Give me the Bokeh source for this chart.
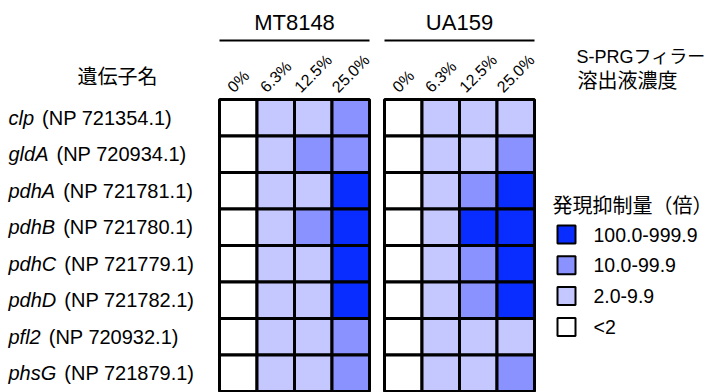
import math

from bokeh.core.properties import value
from bokeh.embed import file_html
from bokeh.models import ColumnDataSource, Range1d
from bokeh.plotting import figure
from bokeh.resources import INLINE

# ---- data -------------------------------------------------------------
genes = ["clp", "gldA", "pdhA", "pdhB", "pdhC", "pdhD", "pfl2", "phsG"]
accessions = ["(NP 721354.1)", "(NP 720934.1)", "(NP 721781.1)", "(NP 721780.1)",
              "(NP 721779.1)", "(NP 721782.1)", "(NP 720932.1)", "(NP 721879.1)"]
concentrations = ["0%", "6.3%", "12.5%", "25.0%"]
strains = ["MT8148", "UA159"]

# fold-repression class per gene (rows) and eluate concentration (columns)
# 0: <2, 1: 2.0-9.9, 2: 10.0-99.9, 3: 100.0-999.9
mt8148_class = [
    [0, 1, 1, 2],
    [0, 1, 2, 2],
    [0, 1, 1, 3],
    [0, 1, 2, 3],
    [0, 1, 1, 3],
    [0, 1, 1, 3],
    [0, 1, 1, 2],
    [0, 1, 1, 2],
]
ua159_class = [
    [0, 1, 1, 1],
    [0, 1, 1, 2],
    [0, 1, 2, 3],
    [0, 1, 3, 3],
    [0, 1, 2, 3],
    [0, 1, 2, 3],
    [0, 1, 1, 1],
    [0, 1, 1, 2],
]
class_labels = ["<2", "2.0-9.9", "10.0-99.9", "100.0-999.9"]

row_header = "遺伝子名"
conc_title = ["S-PRGフィラー", "溶出液濃度"]
legend_title = "発現抑制量（倍）"

# ---- style / layout ---------------------------------------------------
W, H = 713, 392
palette = ["#ffffff", "#c4c8ff", "#8a92ff", "#0a2dff"]
LATIN = "Liberation Sans"
CJK = "Noto Sans CJK JP"
MIXED = "Liberation Sans, Noto Sans CJK JP"

GRID_TOP = 99.0
ROW_H = 36.5
COL_W = 37.5
GRID_LEFT = {"MT8148": 219.0, "UA159": 384.0}

# Arial-compatible advance widths (1/1000 em) for placing text runs
ADV = {c: 556 for c in "0123456789"}
ADV.update({" ": 278, ".": 278, "%": 889, "(": 333, ")": 333, "N": 722, "P": 667,
            "A": 667, "B": 667, "C": 722, "D": 722, "G": 778,
            "a": 556, "c": 500, "d": 556, "f": 278, "g": 556, "h": 556,
            "l": 222, "p": 556, "s": 500})


def text_width(s, size):
    return sum(ADV.get(ch, 556) for ch in s) * size / 1000.0


p = figure(width=W, height=H, x_range=Range1d(0, W), y_range=Range1d(H, 0),
           output_backend="svg", toolbar_location=None, min_border=0,
           background_fill_color="white", border_fill_color="white")
p.axis.visible = False
p.grid.visible = False
p.outline_line_color = None

# ---- heatmap cells ----------------------------------------------------
xs, ys, colors = [], [], []
for strain, table in zip(strains, [mt8148_class, ua159_class]):
    for i, row in enumerate(table):
        for j, cls in enumerate(row):
            xs.append(GRID_LEFT[strain] + (j + 0.5) * COL_W)
            ys.append(GRID_TOP + (i + 0.5) * ROW_H)
            colors.append(palette[cls])
p.rect(x="x", y="y", width=COL_W, height=ROW_H, fill_color="c",
       line_color="black", line_width=3,
       source=ColumnDataSource(dict(x=xs, y=ys, c=colors)))

# ---- strain headers and concentration labels --------------------------
CONC_FS = 16
for strain in strains:
    left = GRID_LEFT[strain]
    right = left + 4 * COL_W
    p.segment(x0=[left], y0=[40], x1=[right], y1=[40], line_color="black", line_width=2)
    p.text(x=[(left + right) / 2], y=[22], text=[strain], text_align="center",
           text_baseline="middle", text_font=value(LATIN), text_font_size="22px",
           text_color="black")
    cx, cy, ct = [], [], []
    for j, lab in enumerate(concentrations):
        half = text_width(lab, CONC_FS) / 2 * math.cos(math.pi / 4)
        cx.append(left + (j + 0.5) * COL_W - half)
        cy.append(89)
        ct.append(lab)
    # labels rise at 45 degrees from their lower-left corner
    p.text(x=cx, y=cy, text=ct, angle=math.pi / 4, text_align="left",
           text_baseline="alphabetic", text_font=value(LATIN),
           text_font_size=f"{CONC_FS}px", text_color="black")

# ---- row labels: italic gene symbol + accession -----------------------
GENE_FS = 20
gx, gy, ax = [], [], []
for i, g in enumerate(genes):
    gx.append(8)
    gy.append(GRID_TOP + (i + 0.5) * ROW_H)
    ax.append(8 + text_width(g, GENE_FS) + 8)
p.text(x=gx, y=gy, text=genes, text_align="left", text_baseline="middle",
       text_font=value(LATIN), text_font_style="italic",
       text_font_size=f"{GENE_FS}px", text_color="black")
p.text(x=ax, y=gy, text=accessions, text_align="left", text_baseline="middle",
       text_font=value(LATIN), text_font_size=f"{GENE_FS}px", text_color="black")

p.text(x=[117], y=[75], text=[row_header], text_align="center", text_baseline="middle",
       text_font=value(CJK), text_font_size="20px", text_color="black")

p.text(x=[576], y=[56], text=[conc_title[0]], text_align="left",
       text_baseline="middle", text_font=value(MIXED), text_font_size="18px",
       text_color="black")
p.text(x=[577], y=[80], text=[conc_title[1]], text_align="left",
       text_baseline="middle", text_font=value(MIXED), text_font_size="20px",
       text_color="black")

# ---- legend -----------------------------------------------------------
p.text(x=[552], y=[205], text=[legend_title], text_align="left", text_baseline="middle",
       text_font=value(MIXED), text_font_size="20px", text_color="black")
lx, ly, lc, lt = [], [], [], []
for k, cls in enumerate(reversed(range(len(class_labels)))):
    lx.append(566)
    ly.append(234 + k * 30.8)
    lc.append(palette[cls])
    lt.append(class_labels[cls])
p.rect(x=lx, y=ly, width=18, height=18, fill_color=lc, line_color="black", line_width=2)
p.text(x=[x + 27 for x in lx], y=ly, text=lt, text_align="left", text_baseline="middle",
       text_font=value(LATIN), text_font_size="19.5px", text_color="black")

open("out.html", "w").write(file_html(p, INLINE))
